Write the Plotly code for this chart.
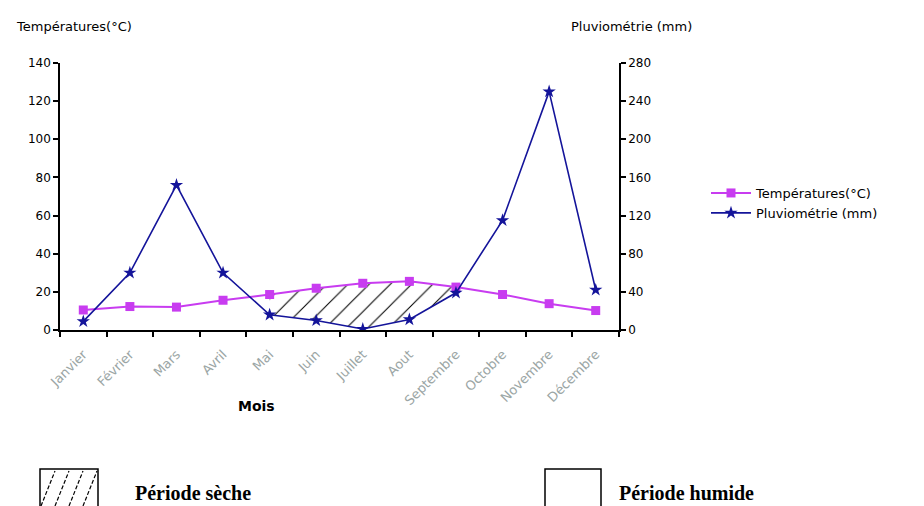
import plotly.graph_objects as go

# Monthly climate data
mois = ["Janvier", "Février", "Mars", "Avril", "Mai", "Juin", "Juillet",
        "Aout", "Septembre", "Octobre", "Novembre", "Décembre"]
temperature = [10.5, 12.3, 12, 15.6, 18.6, 21.9, 24.5, 25.5, 22.5, 18.6, 13.8, 10.2]
pluviometrie = [9, 60, 152, 60, 16, 10, 1, 11, 39, 115, 250, 42]

# Dry period: months where P < 2T (Gaussen), drawn on the temperature scale
sec_start, sec_end = 4, 8  # Mai .. Septembre
sec_x = mois[sec_start:sec_end + 1] + mois[sec_start:sec_end + 1][::-1]
sec_y = temperature[sec_start:sec_end + 1] + [p / 2 for p in pluviometrie[sec_start:sec_end + 1]][::-1]

TEMP_COL = "#C83CF0"
PLUIE_COL = "#14149A"
FONT = "DejaVu Sans, Verdana, sans-serif"
SERIF = "Liberation Serif, Times New Roman, serif"

fig = go.Figure()

fig.add_trace(go.Scatter(
    x=sec_x, y=sec_y, fill="toself", mode="lines",
    line=dict(width=0, color="rgba(0,0,0,0)"),
    fillcolor="rgba(255,255,255,0)",
    fillpattern=dict(shape="/", fgcolor="black", fgopacity=1,
                     bgcolor="rgba(255,255,255,0)", size=15, solidity=0.07),
    showlegend=False, hoverinfo="skip"))

fig.add_trace(go.Scatter(
    x=mois, y=temperature, name="Températures(°C)", mode="lines+markers",
    line=dict(color=TEMP_COL, width=2),
    marker=dict(symbol="square", size=9, color=TEMP_COL)))

fig.add_trace(go.Scatter(
    x=mois, y=pluviometrie, name="Pluviométrie (mm)", mode="lines+markers",
    yaxis="y2",
    line=dict(color=PLUIE_COL, width=1.6),
    marker=dict(symbol="star", size=10, color=PLUIE_COL)))

L, R, T, B = 60, 619, 63, 330
W, H = 924, 506


def px(x):
    return (x - L) / (R - L)


def py(y):
    return (B - y) / (B - T)


shapes = [
    # hatched legend box
    dict(type="rect", xref="paper", yref="paper",
         x0=px(40), x1=px(98), y0=py(520), y1=py(469),
         line=dict(color="black", width=1.5), fillcolor="white"),
    # plain legend box
    dict(type="rect", xref="paper", yref="paper",
         x0=px(545), x1=px(601), y0=py(520), y1=py(469),
         line=dict(color="black", width=1.5), fillcolor="white"),
]
# diagonal hatching inside the dry-period legend box
for xb in [41, 55, 69, 83]:
    shapes.append(dict(type="line", xref="paper", yref="paper",
                       x0=px(xb), y0=py(506), x1=px(xb + 14), y1=py(471),
                       line=dict(color="black", width=1.2, dash="4px,2px")))

annotations = [
    dict(text="Températures(°C)", xref="paper", yref="paper", x=px(14), y=py(27),
         xanchor="left", yanchor="middle", showarrow=False,
         font=dict(family=FONT, size=13, color="black")),
    dict(text="Pluviométrie (mm)", xref="paper", yref="paper", x=px(569), y=py(27),
         xanchor="left", yanchor="middle", showarrow=False,
         font=dict(family=FONT, size=13, color="black")),
    dict(text="<b>Mois</b>", xref="paper", yref="paper", x=px(256), y=py(406),
         xanchor="center", yanchor="middle", showarrow=False,
         font=dict(family=FONT, size=14, color="black")),
    dict(text="<b>Période sèche</b>", xref="paper", yref="paper", x=px(133), y=py(493),
         xanchor="left", yanchor="middle", showarrow=False,
         font=dict(family=SERIF, size=20, color="black")),
    dict(text="<b>Période humide</b>", xref="paper", yref="paper", x=px(617), y=py(493),
         xanchor="left", yanchor="middle", showarrow=False,
         font=dict(family=SERIF, size=20, color="black")),
]

fig.update_layout(
    width=W, height=H,
    margin=dict(l=L, r=W - R, t=T, b=H - B),
    paper_bgcolor="white", plot_bgcolor="white",
    font=dict(family=FONT, size=12, color="black"),
    xaxis=dict(type="category", categoryorder="array", categoryarray=mois,
               range=[-0.5, 11.5], tickson="boundaries", ticks="outside",
               ticklen=5, tickwidth=1.5, tickcolor="black",
               showline=True, linecolor="black", linewidth=1.5,
               showgrid=False, zeroline=False, tickangle=-45,
               ticklabelstandoff=10,
               tickfont=dict(family=FONT, size=13, color="#9BA6A5")),
    yaxis=dict(range=[0, 140], dtick=20, ticks="outside", ticklen=5,
               tickwidth=1.5, tickcolor="black", showline=True,
               linecolor="black", linewidth=1.5, showgrid=False, zeroline=False,
               tickfont=dict(family=FONT, size=12, color="black")),
    yaxis2=dict(range=[0, 280], dtick=40, overlaying="y", side="right",
                ticks="outside", ticklen=5, tickwidth=1.5, tickcolor="black",
                showline=True, linecolor="black", linewidth=1.5,
                showgrid=False, zeroline=False,
                tickfont=dict(family=FONT, size=12, color="black")),
    legend=dict(x=px(706), y=py(178), xanchor="left", yanchor="top",
                bgcolor="rgba(0,0,0,0)", font=dict(family=FONT, size=13),
                itemwidth=40, tracegroupgap=4),
    shapes=shapes,
    annotations=annotations,
)

fig.write_html("out.html")
